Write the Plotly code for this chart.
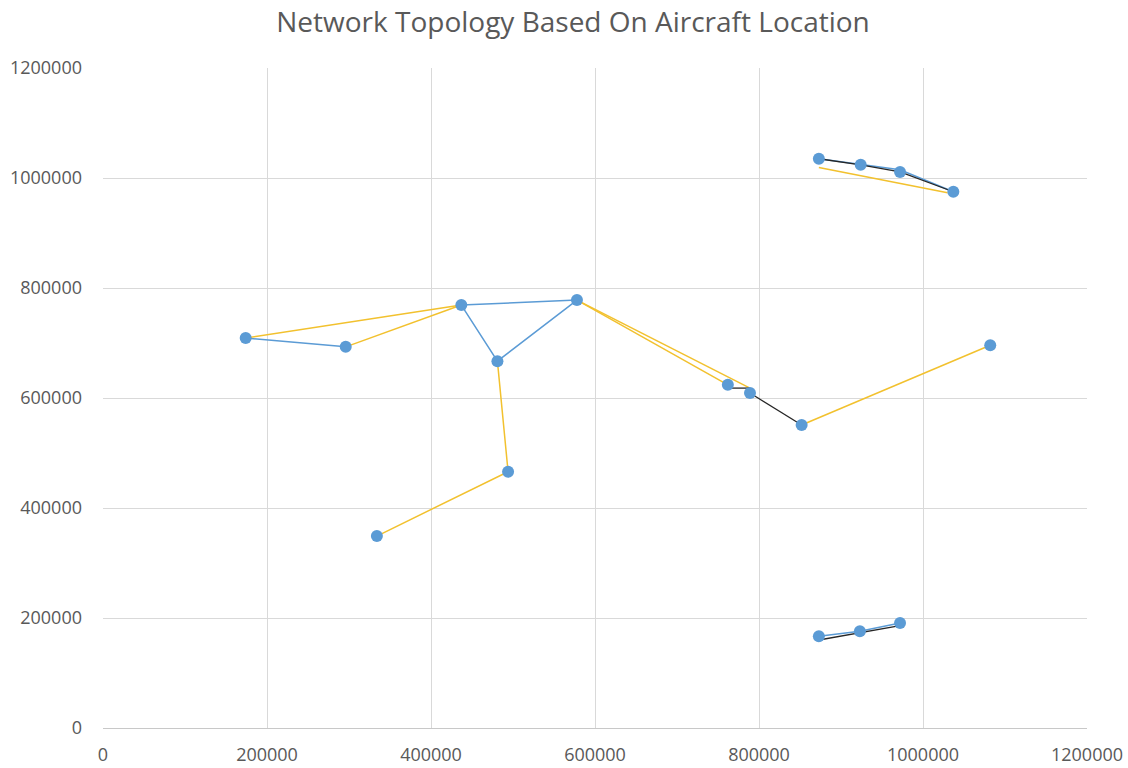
import plotly.graph_objects as go

# aircraft positions (markers)
node_x = [174000, 296000, 437000, 481000, 578000, 494000, 334000,
          762000, 789000, 852000, 1082000,
          873000, 924000, 972000, 1037000,
          873000, 923000, 972000]
node_y = [709000, 693000, 769000, 667000, 778000, 466000, 349000,
          624000, 609000, 551000, 696000,
          1035000, 1024000, 1011000, 975000,
          167000, 176000, 191000]

# links, one list per colour, None breaks a segment
blue_x = [174000, 296000, None, 437000, 578000, None, 437000, 481000, 578000, None,
          873000, 972000, 1037000, None, 873000, 923000, 972000]
blue_y = [709000, 693000, None, 769000, 778000, None, 769000, 667000, 778000, None,
          1035000, 1015000, 975000, None, 167000, 176000, 191000]

yellow_x = [174000, 437000, None, 296000, 437000, None, 481000, 494000, 334000, None,
            578000, 762000, None, 578000, 789000, None, 852000, 1082000, None,
            873000, 1030000]
yellow_y = [709000, 769000, None, 693000, 769000, None, 667000, 466000, 349000, None,
            778000, 624000, None, 778000, 618000, None, 551000, 696000, None,
            1019000, 973000]

black_x = [762000, 789000, None, 789000, 852000, None,
           873000, 924000, 972000, 1037000, None, 873000, 972000]
black_y = [618000, 618000, None, 609000, 551000, None,
           1035000, 1024000, 1011000, 975000, None, 160000, 186000]

ticks = [0, 200000, 400000, 600000, 800000, 1000000, 1200000]

fig = go.Figure()
fig.add_trace(go.Scatter(x=blue_x, y=blue_y, mode="lines",
                         line={"color": "#5b9bd5", "width": 1.5}))
fig.add_trace(go.Scatter(x=yellow_x, y=yellow_y, mode="lines",
                         line={"color": "#f2c12e", "width": 1.5}))
fig.add_trace(go.Scatter(x=black_x, y=black_y, mode="lines",
                         line={"color": "#262626", "width": 1.3}))
fig.add_trace(go.Scatter(x=node_x, y=node_y, mode="markers",
                         marker={"color": "#5b9bd5", "size": 12}))

fig.update_layout(
    width=1128,
    height=768,
    showlegend=False,
    margin={"l": 103, "r": 41, "t": 68, "b": 40, "autoexpand": False},
    paper_bgcolor="white",
    plot_bgcolor="white",
    font={"family": "Open Sans, sans-serif", "size": 18, "color": "#595959"},
    title={
        "text": "Network Topology Based On Aircraft Location",
        "x": 0.508,
        "xanchor": "center",
        "y": 0.971,
        "yanchor": "middle",
        "font": {"size": 28, "color": "#595959"},
        "automargin": False,
    },
    xaxis={
        "range": [0, 1200000],
        "tickvals": ticks,
        "ticktext": [str(t) for t in ticks],
        "showgrid": True,
        "gridcolor": "#d9d9d9",
        "zeroline": False,
        "showline": True,
        "linecolor": "#c8c8c8",
        "ticklabelstandoff": 10,
        "automargin": False,
    },
    yaxis={
        "range": [0, 1200000],
        "tickvals": ticks,
        "ticktext": [str(t) for t in ticks],
        "showgrid": True,
        "gridcolor": "#d9d9d9",
        "zeroline": False,
        "showline": False,
        "ticklabelstandoff": 20,
        "automargin": False,
    },
)

# drop the page's default body margin so the 1128x768 figure sits at 0,0
fig.write_html("out.html", config={"displayModeBar": False},
               post_script="document.body.style.margin = '0';")
